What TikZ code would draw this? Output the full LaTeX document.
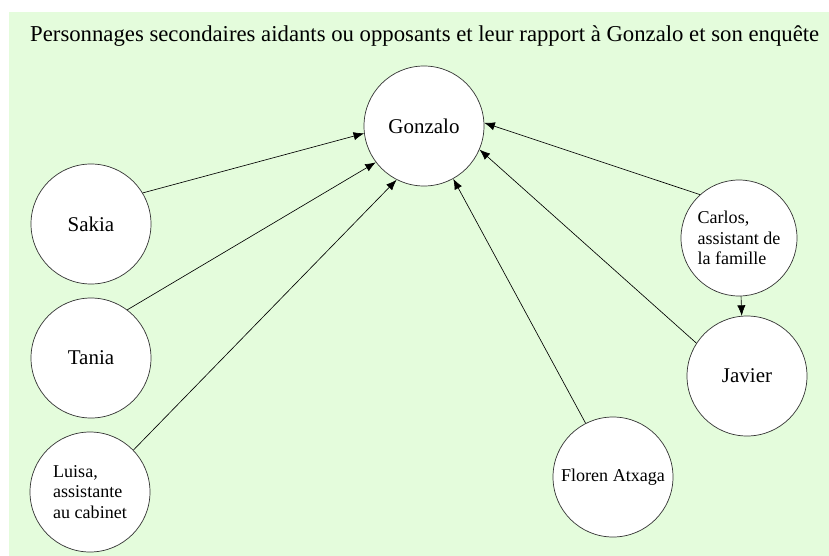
\documentclass[tikz,border=0pt]{standalone}
\usepackage{fontspec}
\setmainfont{Liberation Serif}
\usetikzlibrary{arrows.meta}
\definecolor{fond}{RGB}{228,252,220}

\begin{document}
\begin{tikzpicture}[x=0.03cm,y=-0.03cm,
    perso/.style={draw=black!80,fill=white,circle,minimum size=3.6cm,inner sep=0pt,
      line width=0.6pt,font=\fontsize{17.9}{20}\selectfont},
    petit/.style={font=\fontsize{15.4}{17.5}\selectfont,align=left},
    fleche/.style={-{Latex[length=9pt,width=7pt]},line width=0.55pt}]
      \useasboundingbox (0,0) rectangle (829,556);
      \fill[fond] (9,12) rectangle (829,556);
      \node[anchor=west,inner sep=0pt,font=\fontsize{19.4}{20}\selectfont] (titre) at (30,36)
        {Personnages secondaires aidants ou opposants et leur rapport à Gonzalo et son enquête};
      % personnages
      \node[perso] (gonzalo) at (424,126) {Gonzalo};
      \node[perso] (sakia) at (91,224) {Sakia};
      \node[perso] (tania) at (91,358) {Tania};
      \node[perso,petit] (luisa) at (90,492) {Luisa,\\assistante\\au cabinet};
      \node[perso,petit] (floren) at (613,477) {Floren Atxaga};
      \node[perso,petit,minimum size=3.48cm] (carlos) at (739,238) {Carlos,\\assistant de\\la famille};
      \node[perso] (javier) at (747,376) {Javier};
      % liens vers Gonzalo
      \draw[fleche] (sakia.31.6) -- (gonzalo.187);
      \draw[fleche] (tania.53.5) -- (gonzalo.217.5);
      \draw[fleche] (luisa.44) -- (gonzalo.243);
      \draw[fleche] (floren.117) -- (gonzalo.299);
      \draw[fleche] (javier.147) -- (gonzalo.337);
      \draw[fleche] (carlos.132) -- (gonzalo.3);
      \draw[fleche] (carlos.-88) -- (javier.95.7);
    \end{tikzpicture}
\end{document}
